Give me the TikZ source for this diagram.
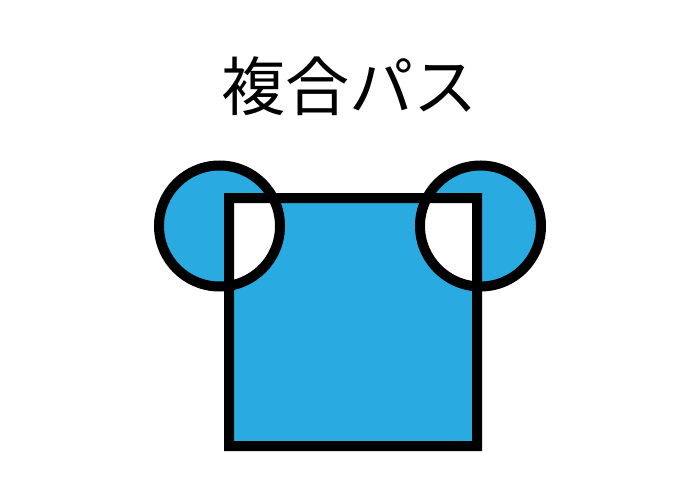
\documentclass[tikz,border=0pt]{standalone}
\usepackage{fontspec}
\newfontfamily\cjk{Noto Sans CJK JP}
\definecolor{pathblue}{HTML}{29ABE2}

\tikzstyle{compound} = [draw=black, line width=10pt, fill=pathblue, even odd rule]
\tikzstyle{heading} = [font=\cjk\fontsize{64}{64}\selectfont, inner sep=0pt]

\begin{document}
\begin{tikzpicture}[x=1pt,y=-1pt]
	
	\useasboundingbox (0,0) rectangle (700,500);
	\node (title) [heading] at (349,86) {複合パス};
	
	%compound path
	\coordinate (left ear) at (219.5,226);
	\coordinate (right ear) at (480.5,226);
	\path [compound] (229,198) rectangle (477,446)
		(left ear) circle (60.5pt)
		(right ear) circle (60.5pt);
	
\end{tikzpicture}
\end{document}
